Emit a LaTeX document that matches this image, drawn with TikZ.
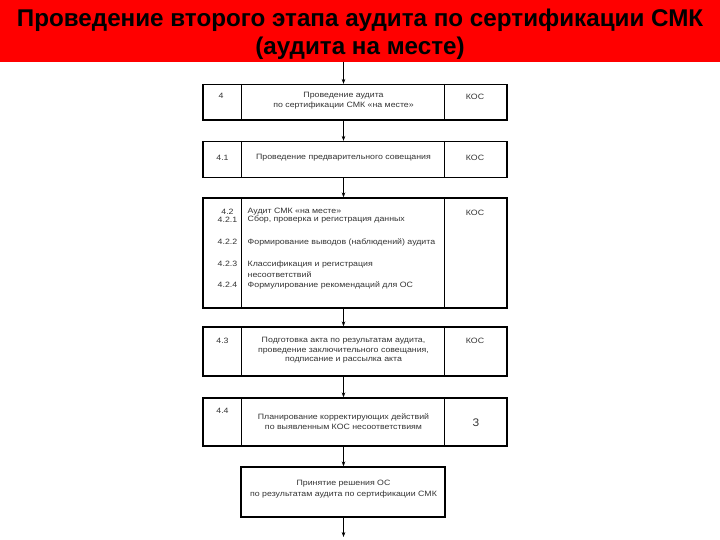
\documentclass[tikz,border=0pt]{standalone}
\usepackage{fontspec}
\setmainfont{Liberation Sans}
\newfontfamily\boxfont[FakeStretch=1.14]{Liberation Sans}
\usetikzlibrary{arrows.meta}
\tikzset{
  box/.style={draw=black, line width=1.3pt, rectangle, inner sep=0pt},
  divider/.style={draw=black, line width=1pt},
  txt/.style={inner sep=0pt, font=\boxfont\fontsize{7.7}{7}\selectfont, text=black!80, align=center},
  txtl/.style={txt, anchor=west, align=left},
  flow/.style={draw=black, line width=0.6pt, -{Stealth[length=5pt,width=3.6pt]}},
  titletxt/.style={inner sep=0pt, font=\fontsize{24.2}{28.3}\bfseries\selectfont, text=black, align=center}
}
\begin{document}
\begin{tikzpicture}[x=1pt,y=-1pt]
\useasboundingbox (0,0) rectangle (720,540);
\fill[red] (0,0) rectangle (720,62);
\node[titletxt] (title) at (360,34.5) {Проведение второго этапа аудита по сертификации СМК\\(аудита на месте)};
\coordinate (top) at (343.5,62);
\coordinate (bottom) at (343.5,537);

% boxes
\node[box, minimum width=304pt, minimum height=35.5pt] (b1) at (355,102.25) {};
\node[box, minimum width=304pt, minimum height=36pt] (b2) at (355,159.5) {};
\node[box, minimum width=304pt, minimum height=110pt] (b3) at (355,253) {};
\node[box, minimum width=304pt, minimum height=49pt] (b4) at (355,351.5) {};
\node[box, minimum width=304pt, minimum height=48pt] (b5) at (355,422) {};
\node[box, minimum width=204pt, minimum height=50pt] (b6) at (343,492) {};

% dividers
\foreach \b in {b1,b2,b3,b4,b5}{
  \draw[divider] (\b.north west) ++(39,0) coordinate (\b l) -- (\b l |- \b.south);
  \draw[divider] (\b.north west) ++(242,0) coordinate (\b r) -- (\b r |- \b.south);
}

% box 1
\node[txt] (n1) at (221,96) {4};
\node[txt] (t1) at (343.5,100.5) {Проведение аудита\\[2pt]по сертификации СМК «на месте»};
\node[txt] (k1) at (475,96.5) {КОС};
% box 2
\node[txt] (n2) at (222.5,157.5) {4.1};
\node[txt] (t2) at (343.5,157.5) {Проведение предварительного совещания};
\node[txt] (k2) at (475,157.5) {КОС};
% box 3
\node[txt] (n3) at (227.5,211.5) {4.2};
\node[txt] (n31) at (227.5,219.5) {4.2.1};
\node[txt] (n32) at (227.5,242) {4.2.2};
\node[txt] (n33) at (227.5,264) {4.2.3};
\node[txt] (n34) at (227.5,285) {4.2.4};
\node[txtl] (t3) at (247.5,211.5) {Аудит СМК «на месте»};
\node[txtl] (t31) at (247.5,219.5) {Сбор, проверка и регистрация данных};
\node[txtl] (t32) at (247.5,242) {Формирование выводов (наблюдений) аудита};
\node[txtl] (t33) at (247.5,269) {Классификация и регистрация\\[2.5pt]несоответствий};
\node[txtl] (t34) at (247.5,285) {Формулирование рекомендаций для ОС};
\node[txt] (k3) at (475,212.5) {КОС};
% box 4
\node[txt] (n4) at (222.5,341) {4.3};
\node[txt] (t4) at (343.5,350.5) {Подготовка акта по результатам аудита,\\[2.5pt]проведение заключительного совещания,\\[2.5pt]подписание и рассылка акта};
\node[txt] (k4) at (475,341) {КОС};
% box 5
\node[txt] (n5) at (222.5,410.5) {4.4};
\node[txt] (t5) at (343.5,421.5) {Планирование корректирующих действий\\[3pt]по выявленным КОС несоответствиям};
\node[txt, font=\fontsize{11}{12}\selectfont] (k5) at (476,423) {З};
% box 6
\node[txt] (t6) at (343.5,489) {Принятие решения ОС\\[3pt]по результатам аудита по сертификации СМК};

% connectors
\draw[flow] (top) -- (top |- b1.north);
\draw[flow] (b1.south -| top) -- (b2.north -| top);
\draw[flow] (b2.south -| top) -- (b3.north -| top);
\draw[flow] (b3.south -| top) -- (b4.north -| top);
\draw[flow] (b4.south -| top) -- (b5.north -| top);
\draw[flow] (b5.south -| top) -- (b6.north -| top);
\draw[flow] (b6.south -| top) -- (bottom);
\end{tikzpicture}
\end{document}
